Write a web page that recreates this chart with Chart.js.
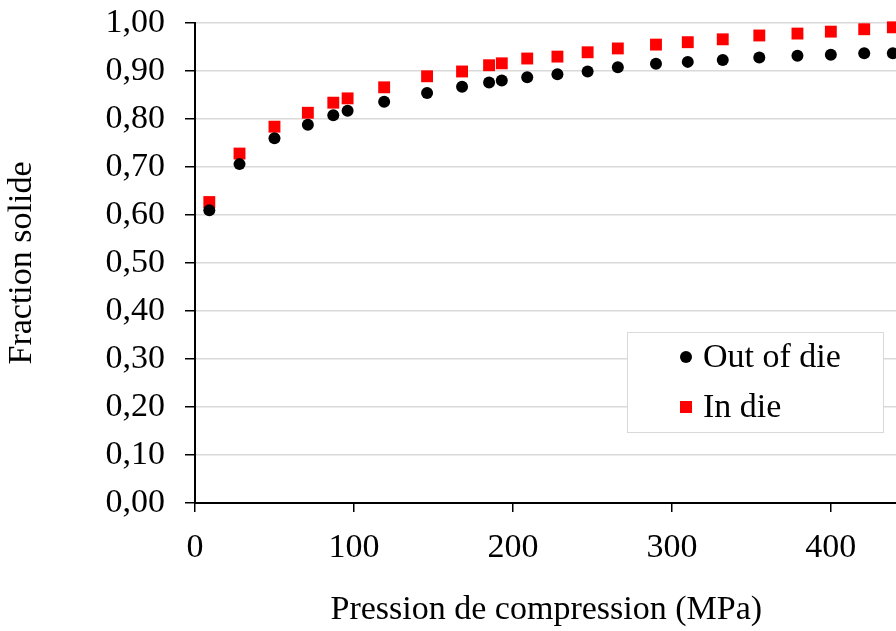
<!DOCTYPE html>
<html lang="fr">
<head>
    <meta charset="UTF-8">
    <title>Fraction solide</title>
    <script src="https://cdn.jsdelivr.net/npm/chart.js"></script>
    <style>
        html, body { margin: 0; padding: 0; background: #fff; overflow: hidden; }
        /* a bit wider than the window: the plot is cut at the right edge like the source */
        #wrap { width: 906px; height: 631px; }
    </style>
</head>
<body>
    <div id="wrap"><canvas id="chart"></canvas></div>

    <script>
        // pressures (MPa), shared by both series
        const pressures = [9, 28, 50, 71, 87, 96, 119, 146, 168, 185, 193, 209, 228, 247, 266, 290, 310, 332, 355, 379, 400, 421, 439];
        const outOfDie = [0.610, 0.706, 0.760, 0.788, 0.808, 0.817, 0.836, 0.854, 0.867, 0.876, 0.880, 0.887, 0.893, 0.899, 0.908, 0.915, 0.919, 0.923, 0.928, 0.932, 0.934, 0.937, 0.937];
        const inDie = [0.627, 0.728, 0.784, 0.813, 0.834, 0.843, 0.866, 0.889, 0.899, 0.912, 0.916, 0.926, 0.930, 0.939, 0.947, 0.955, 0.960, 0.966, 0.974, 0.978, 0.982, 0.987, 0.991];
        const seriesNames = ['Out of die', 'In die'];
        const xTicks = [0, 100, 200, 300, 400];

        const FONT = 'Liberation Serif';

        const toPoints = ys => pressures.map((x, i) => ({ x: x, y: ys[i] }));

        // legend box drawn inside the plot, lower right
        const boxLegend = {
            id: 'boxLegend',
            afterDraw(chart) {
                const ctx = chart.ctx;
                const x0 = 627, y0 = 332, w = 256, h = 100;
                ctx.save();
                ctx.fillStyle = '#fff';
                ctx.fillRect(x0, y0, w, h);
                ctx.strokeStyle = '#d9d9d9';
                ctx.lineWidth = 1;
                ctx.strokeRect(x0 + 0.5, y0 + 0.5, w, h);
                ctx.font = '34px "' + FONT + '"';
                ctx.textBaseline = 'middle';
                chart.data.datasets.forEach((ds, i) => {
                    const cy = y0 + 25 + i * 50;
                    ctx.fillStyle = ds.backgroundColor;
                    if (ds.pointStyle === 'rect') {
                        ctx.fillRect(680, cy - 6, 12, 12);
                    } else {
                        ctx.beginPath();
                        ctx.arc(686, cy, 6, 0, Math.PI * 2);
                        ctx.fill();
                    }
                    ctx.fillStyle = '#000';
                    ctx.fillText(ds.label, 703, cy + 1);
                });
                ctx.restore();
            }
        };

        new Chart(document.getElementById('chart'), {
            type: 'scatter',
            data: {
                datasets: [
                    {
                        label: seriesNames[0],
                        data: toPoints(outOfDie),
                        backgroundColor: '#000',
                        borderColor: '#000',
                        pointStyle: 'circle',
                        pointRadius: 6,
                        pointBorderWidth: 0,
                        order: 1
                    },
                    {
                        label: seriesNames[1],
                        data: toPoints(inDie),
                        backgroundColor: '#ff0000',
                        borderColor: '#ff0000',
                        pointStyle: 'rect',
                        pointRadius: 8.4,
                        pointBorderWidth: 0,
                        order: 2
                    }
                ]
            },
            options: {
                responsive: true,
                maintainAspectRatio: false,
                animation: false,
                clip: false,
                layout: { padding: { top: 23, right: 0, left: 0, bottom: 0 } },
                plugins: {
                    legend: { display: false },
                    tooltip: { enabled: false }
                },
                scales: {
                    x: {
                        type: 'linear',
                        min: 0,
                        max: 442,
                        afterBuildTicks: axis => { axis.ticks = xTicks.map(v => ({ value: v })); },
                        afterFit: axis => {
                            axis.height = 128;
                            axis.paddingLeft = 0;
                            axis.paddingRight = 0;
                        },
                        ticks: {
                            color: '#000',
                            font: { family: FONT, size: 34 },
                            padding: 16,
                            maxRotation: 0
                        },
                        grid: {
                            drawOnChartArea: false,
                            color: '#000',
                            tickColor: '#000',
                            tickLength: 9,
                            lineWidth: 1.5
                        },
                        border: { color: '#000', width: 2 },
                        title: {
                            display: true,
                            text: 'Pression de compression (MPa)',
                            color: '#000',
                            font: { family: FONT, size: 34 },
                            padding: { top: 0, bottom: 1 }
                        }
                    },
                    y: {
                        min: 0,
                        max: 1,
                        afterFit: axis => {
                            axis.width = 195;
                            axis.paddingTop = 0;
                            axis.paddingBottom = 0;
                        },
                        ticks: {
                            stepSize: 0.1,
                            color: '#000',
                            font: { family: FONT, size: 34 },
                            padding: 20,
                            callback: v => v.toFixed(2).replace('.', ',')
                        },
                        grid: {
                            color: '#d9d9d9',
                            lineWidth: 1.5,
                            tickColor: '#000',
                            tickLength: 10
                        },
                        border: { color: '#000', width: 2 },
                        title: {
                            display: true,
                            text: 'Fraction solide',
                            color: '#000',
                            font: { family: FONT, size: 34 },
                            padding: { top: 2, bottom: 0 }
                        }
                    }
                }
            },
            plugins: [boxLegend]
        });
    </script>
</body>
</html>
